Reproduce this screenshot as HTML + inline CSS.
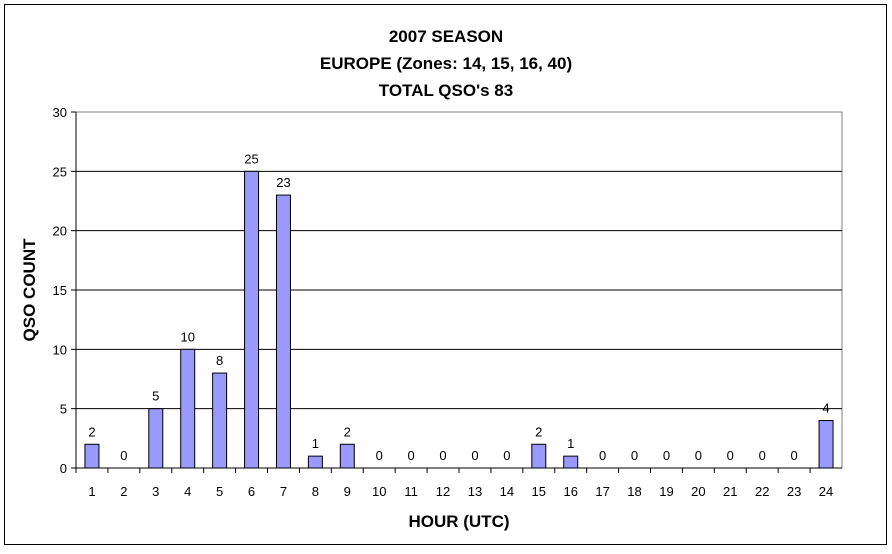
<!DOCTYPE html>
<html><head><meta charset="utf-8"><style>
body{margin:0;background:#fff;font-family:"Liberation Sans",Arial,sans-serif}
</style></head><body>
<svg width="892" height="549" xmlns="http://www.w3.org/2000/svg" font-family="Liberation Sans, Arial, sans-serif">
<rect x="4.5" y="4.5" width="882" height="540" fill="#fff" stroke="#000" stroke-width="1"/>
<g font-weight="bold" font-size="17" text-anchor="middle">
<text x="446" y="42">2007 SEASON</text>
<text x="446" y="69">EUROPE (Zones: 14, 15, 16, 40)</text>
<text x="446" y="96">TOTAL QSO's 83</text>
</g>
<text x="0" y="0" transform="translate(35,290) rotate(-90)" font-weight="bold" font-size="17" text-anchor="middle">QSO COUNT</text>
<text x="459" y="527" font-weight="bold" font-size="17" text-anchor="middle">HOUR (UTC)</text>
<g id="plot"></g>
</svg>
<script>
const categories=["1","2","3","4","5","6","7","8","9","10","11","12","13","14","15","16","17","18","19","20","21","22","23","24"];
const values=[2,0,5,10,8,25,23,1,2,0,0,0,0,0,2,1,0,0,0,0,0,0,0,4];
const yTicks=[0,5,10,15,20,25,30];
const L=76,R=842,T=112,B=468,yMax=30;
const ns="http://www.w3.org/2000/svg";
const g=document.getElementById('plot');
const y=v=>B-(v/yMax)*(B-T);
const bw=(R-L)/categories.length;
const x=i=>L+i*bw;
function mk(t,a){const e=document.createElementNS(ns,t);for(const k in a)e.setAttribute(k,a[k]);g.appendChild(e);return e;}
let r=mk('rect',{x:L,y:T,width:R-L,height:B-T,fill:'#fff',stroke:'#808080'});


yTicks.forEach(v=>{
 if(v>0&&v<yMax){let l=mk('line',{x1:L,x2:R,y1:y(v),y2:y(v),stroke:'#000'});
 
 }
 let tk=mk('line',{x1:L-5,x2:L,y1:y(v),y2:y(v),stroke:'#000'});
 
 
 let t=mk('text',{x:L-9,y:y(v)+5,'text-anchor':'end','font-size':'13'});t.textContent=v;
 
 
});
categories.forEach((c,i)=>{
 const v=values[i],cx=x(i)+bw/2;
 if(v>0){let b=mk('rect',{x:cx-7,y:y(v),width:14,height:B-y(v),fill:'#9999ff',stroke:'#000'});
 
 }
 let lb=mk('text',{x:cx,y:y(v)-8,'text-anchor':'middle','font-size':'13'});lb.textContent=v;
 
 
 let tk=mk('line',{x1:x(i),x2:x(i),y1:B,y2:B+5,stroke:'#000'});
 
 
 let t=mk('text',{x:cx,y:B+28,'text-anchor':'middle','font-size':'13'});t.textContent=c;
 
 
});
let ax=mk('line',{x1:L,x2:L,y1:T,y2:B,stroke:'#000'});


let ax2=mk('line',{x1:L,x2:R,y1:B,y2:B,stroke:'#000'});


</script>
</body></html>
